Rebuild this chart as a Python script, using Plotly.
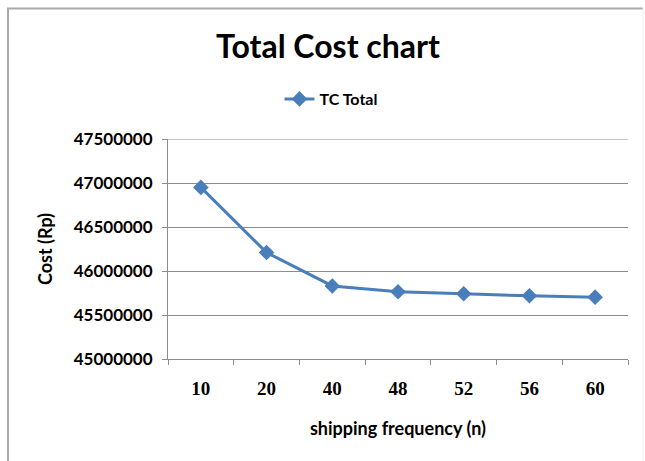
import plotly.graph_objects as go

# Shipping frequency categories and total cost (Rp)
frequency = ["10", "20", "40", "48", "52", "56", "60"]
tc_total = [46950000, 46210000, 45830000, 45765000, 45742000, 45718000, 45703000]
y_ticks = [45000000, 45500000, 46000000, 46500000, 47000000, 47500000]

FONT = "Lato"
SERIF = "Liberation Serif"
BLUE = "#4A7EBB"
GRID = "#8c8c8c"

fig = go.Figure()
fig.add_trace(go.Scatter(
    x=frequency, y=tc_total, name="TC Total",
    mode="lines+markers",
    line=dict(color=BLUE, width=3),
    marker=dict(symbol="diamond", size=12, color=BLUE),
))

# plot area spans x 168..628, y 139..359 px
L, R, T, B = 168, 628, 139, 359
W, H = 645, 461
def px_x(p):
    return (p - L) / (R - L)
def px_y(p):
    return (B - p) / (B - T)

fig.update_layout(
    width=W, height=H,
    margin=dict(l=L, r=W - R, t=T, b=H - B),
    paper_bgcolor="white", plot_bgcolor="white",
    font=dict(family=FONT, color="black"),
    title=dict(text="Total Cost chart", x=px_x(328), xref="paper", xanchor="center",
               y=1 - 47 / H, yanchor="middle",
               font=dict(family=FONT, size=32, weight="bold", color="black")),
    showlegend=True,
    legend=dict(orientation="h", x=px_x(331), xanchor="center",
                y=px_y(99), yanchor="middle",
                font=dict(family=FONT, size=16, weight="bold"),
                bgcolor="rgba(0,0,0,0)"),
    xaxis=dict(
        type="category", range=[-0.5, 6.5],
        showline=True, linecolor=GRID, linewidth=1,
        ticks="outside", tickson="boundaries", ticklen=5, tickcolor=GRID,
        showgrid=False,
        ticklabelstandoff=12,
        tickfont=dict(family=SERIF, size=19, weight="bold"),
        title=dict(text="shipping frequency (n)", standoff=24,
                   font=dict(family=FONT, size=18, weight="bold")),
    ),
    yaxis=dict(
        range=[45000000, 47500000], tickvals=y_ticks,
        tickformat="d",
        showline=True, linecolor=GRID, linewidth=1,
        ticks="outside", ticklen=5, tickcolor=GRID,
        showgrid=True, gridcolor=GRID, gridwidth=1,
        zeroline=False,
        ticklabelstandoff=6,
        tickfont=dict(family=FONT, size=17, weight="bold"),
        title=dict(text="Cost (Rp)", standoff=16,
                   font=dict(family=FONT, size=18, weight="bold")),
    ),
    shapes=[
        # top gridline at the upper edge of the value range
        dict(type="line", xref="paper", yref="y",
             x0=0, x1=1, y0=y_ticks[-1], y1=y_ticks[-1],
             line=dict(color=GRID, width=1)),
        # chart frame
        dict(type="line", xref="paper", yref="paper",
             x0=px_x(8), x1=px_x(8), y0=px_y(8), y1=px_y(461),
             line=dict(color="#aaaaaa", width=2)),
        dict(type="line", xref="paper", yref="paper",
             x0=px_x(7), x1=px_x(643), y0=px_y(8.5), y1=px_y(8.5),
             line=dict(color="#aaaaaa", width=2)),
        dict(type="line", xref="paper", yref="paper",
             x0=px_x(643), x1=px_x(643), y0=px_y(8), y1=px_y(461),
             line=dict(color="#eeeeee", width=1)),
    ],
)

fig.write_html("out.html")
